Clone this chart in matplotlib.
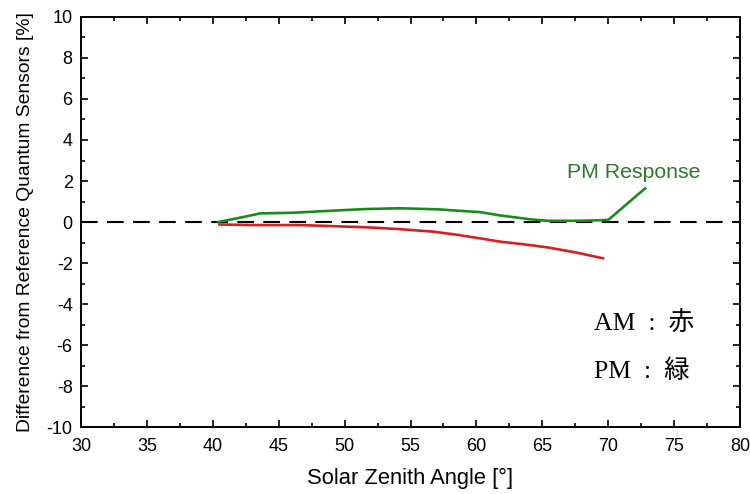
import matplotlib
matplotlib.use("Agg")
import matplotlib.pyplot as plt
from matplotlib.ticker import MultipleLocator

# PM (green) and AM (red) difference curves
pm_angle = [40.4, 42.0, 43.6, 46.0, 48.7, 51.5, 54.2, 57.0, 60.3, 61.8, 64.1, 65.4, 67.9, 70.0, 72.8]
pm_diff = [0.0, 0.2, 0.42, 0.45, 0.54, 0.63, 0.67, 0.62, 0.48, 0.32, 0.13, 0.06, 0.06, 0.1, 1.64]

am_angle = [40.5, 43.0, 46.6, 49.0, 51.7, 54.0, 56.7, 58.5, 60.3, 61.8, 63.5, 65.4, 67.5, 69.6]
am_diff = [-0.12, -0.15, -0.15, -0.2, -0.26, -0.34, -0.47, -0.62, -0.8, -0.96, -1.08, -1.24, -1.48, -1.77]

x_ticks = [30, 35, 40, 45, 50, 55, 60, 65, 70, 75, 80]
y_ticks = [-10, -8, -6, -4, -2, 0, 2, 4, 6, 8, 10]

plt.rcParams['font.family'] = ['Liberation Sans', 'DejaVu Sans']
plt.rcParams['axes.unicode_minus'] = False

fig = plt.figure(figsize=(7.5, 4.94), dpi=100)
ax = fig.add_axes([0.108, 0.1356, 0.8787, 0.83])

ax.axhline(0, color='black', linestyle=(0, (8, 4.5)), linewidth=1.5, zorder=1)
ax.plot(pm_angle, pm_diff, color='#1a8a1a', linewidth=1.9, zorder=3)
ax.plot(am_angle, am_diff, color='#d42020', linewidth=1.9, zorder=2)

ax.text(66.9, 2.4, 'PM Response', color='#2a7a2a', fontsize=15.3, va='center')

# note in the lower right: serif latin, CJK fallback for the kanji
jp = ['Liberation Serif', 'Noto Sans CJK JP']
ax.text(68.9, -4.95, 'AM  :  赤', family=jp, fontsize=18.5, va='center')
ax.text(68.9, -7.3, 'PM  :  緑', family=jp, fontsize=18.5, va='center')

ax.set_xlim(30, 80)
ax.set_ylim(-10, 10)
ax.set_xticks(x_ticks)
ax.set_yticks(y_ticks)
ax.xaxis.set_minor_locator(MultipleLocator(2.5))
ax.yaxis.set_minor_locator(MultipleLocator(1))
ax.tick_params(which='both', direction='in', top=True, right=True, labelsize=13, width=1.2)
ax.tick_params(which='major', length=5)
ax.tick_params(which='minor', length=3)
ax.tick_params(axis='x', pad=8)
ax.tick_params(axis='y', pad=6)
for s in ax.spines.values():
    s.set_linewidth(1.4)

ax.set_xlabel('Solar Zenith Angle [°]', fontsize=15.8, labelpad=9)
ax.set_ylabel('Difference from Reference Quantum Sensors [%]', fontsize=13.9, labelpad=9)

fig.savefig('out.png', dpi=100)
